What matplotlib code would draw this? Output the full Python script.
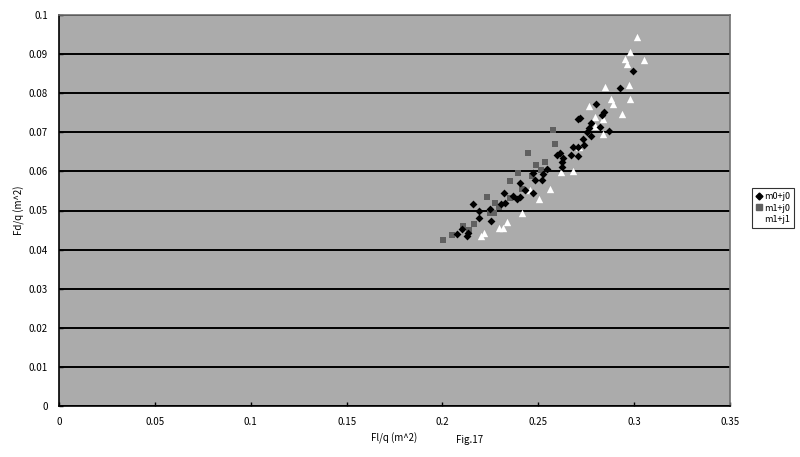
import matplotlib
matplotlib.use("Agg")
import matplotlib.pyplot as plt
from matplotlib.lines import Line2D

plt.rcParams['font.family'] = ['Noto Sans CJK JP', 'DejaVu Sans']

# m0+j0 (black diamonds)
m0j0_x = [0.2992, 0.2925, 0.2800, 0.2718, 0.2707, 0.2843, 0.2834, 0.2775, 0.2766, 0.2822,
          0.2869, 0.2752, 0.2775, 0.2732, 0.2738, 0.2683, 0.2709, 0.2709, 0.2671, 0.2613,
          0.2596, 0.2630, 0.2622, 0.2622, 0.2544, 0.2526, 0.2518, 0.2483, 0.2474, 0.2405,
          0.2431, 0.2474, 0.2405, 0.2391, 0.2370, 0.2321, 0.2326, 0.2304, 0.2248, 0.2192,
          0.2158, 0.2189, 0.2252, 0.2104, 0.2074, 0.2127, 0.2133]
m0j0_y = [0.0858, 0.0813, 0.0772, 0.0737, 0.0734, 0.0751, 0.0743, 0.0723, 0.0711, 0.0714,
          0.0703, 0.0700, 0.0691, 0.0683, 0.0668, 0.0662, 0.0663, 0.0640, 0.0642, 0.0646,
          0.0642, 0.0634, 0.0625, 0.0612, 0.0605, 0.0593, 0.0578, 0.0578, 0.0595, 0.0570,
          0.0553, 0.0546, 0.0534, 0.0529, 0.0537, 0.0544, 0.0519, 0.0517, 0.0503, 0.0499,
          0.0516, 0.0480, 0.0472, 0.0452, 0.0440, 0.0435, 0.0443]

# m1+j0 (gray squares)
m1j0_x = [0.2578, 0.2587, 0.2448, 0.2535, 0.2486, 0.2514, 0.2466, 0.2396, 0.2352, 0.2413,
          0.2231, 0.2274, 0.2352, 0.2297, 0.2248, 0.2271, 0.2165, 0.2109, 0.2140, 0.2051,
          0.2005]
m1j0_y = [0.0706, 0.0669, 0.0646, 0.0625, 0.0616, 0.0604, 0.0588, 0.0595, 0.0576, 0.0554,
          0.0534, 0.0520, 0.0531, 0.0508, 0.0493, 0.0494, 0.0465, 0.0461, 0.0450, 0.0437,
          0.0425]

# m1+j1 (white triangles)
m1j1_x = [0.3015, 0.2980, 0.2954, 0.2963, 0.3050, 0.2846, 0.2973, 0.2881, 0.2977, 0.2888,
          0.2766, 0.2796, 0.2937, 0.2836, 0.2839, 0.2796, 0.2618, 0.2679, 0.2561, 0.2502,
          0.2457, 0.2417, 0.2338, 0.2297, 0.2318, 0.2201, 0.2218, 0.2712]
m1j1_y = [0.0945, 0.0905, 0.0887, 0.0874, 0.0885, 0.0817, 0.0821, 0.0785, 0.0785, 0.0772,
          0.0767, 0.0738, 0.0748, 0.0733, 0.0696, 0.0716, 0.0599, 0.0602, 0.0554, 0.0530,
          0.0553, 0.0494, 0.0470, 0.0455, 0.0456, 0.0436, 0.0442, 0.0663]

x_ticks = [0, 0.05, 0.1, 0.15, 0.2, 0.25, 0.3, 0.35]
x_tick_labels = ['0', '0.05', '0.1', '0.15', '0.2', '0.25', '0.3', '0.35']
y_ticks = [0, 0.01, 0.02, 0.03, 0.04, 0.05, 0.06, 0.07, 0.08, 0.09, 0.1]
y_tick_labels = ['0', '0.01', '0.02', '0.03', '0.04', '0.05', '0.06', '0.07', '0.08', '0.09', '0.1']
series_labels = ['m0+j0', 'm1+j0', 'm1+j1']

fig = plt.figure(figsize=(8, 4.57), dpi=100)
ax = fig.add_axes([59/800, 1-406/457, (730-59)/800, (406-15)/457])
ax.set_facecolor('#ABABAB')

ax.scatter(m1j0_x, m1j0_y, marker='s', s=20, color='#606060', zorder=3, linewidths=0)
ax.scatter(m1j1_x, m1j1_y, marker='^', s=28, color='white', zorder=3, linewidths=0)
ax.scatter(m0j0_x, m0j0_y, marker='D', s=16, color='black', zorder=4, linewidths=0)

ax.set_xlim(0, 0.35)
ax.set_ylim(0, 0.1)
ax.set_xticks(x_ticks)
ax.set_xticklabels(x_tick_labels)
ax.set_yticks(y_ticks)
ax.set_yticklabels(y_tick_labels)
ax.tick_params(axis='both', labelsize=7, direction='in', length=3, width=1, color='black')
ax.tick_params(axis='x', pad=8)
ax.tick_params(axis='y', pad=8)
ax.grid(axis='y', color='black', linewidth=1.4, zorder=1)
ax.set_axisbelow(True)
for s in ['left', 'bottom']:
    ax.spines[s].set_color('black')
    ax.spines[s].set_linewidth(1.2)
for s in ['top', 'right']:
    ax.spines[s].set_color('#707070')
    ax.spines[s].set_linewidth(1.2)

ax.set_xlabel('Fl/q (m^2)', fontsize=7, labelpad=4)
ax.set_ylabel('Fd/q (m^2)', fontsize=7)
ax.yaxis.set_label_coords(-34/671, 0.5)
fig.text(470/800, 1-440/457, 'Fig.17', fontsize=7, ha='center', va='center')

handles = [
    Line2D([], [], marker='D', color='black', linestyle='none', markersize=3.5),
    Line2D([], [], marker='s', color='#606060', linestyle='none', markersize=4),
    Line2D([], [], marker='^', color='white', linestyle='none', markersize=4),
]
leg = fig.legend(handles, series_labels, loc='center', bbox_to_anchor=(773/800, 1-208/457),
                 fontsize=6.5, frameon=True, fancybox=False, edgecolor='black',
                 handlelength=0.6, handletextpad=0.3, borderpad=0.4, labelspacing=0.3,
                 borderaxespad=0)
leg.get_frame().set_linewidth(0.8)

fig.savefig('out.png', dpi=100)
